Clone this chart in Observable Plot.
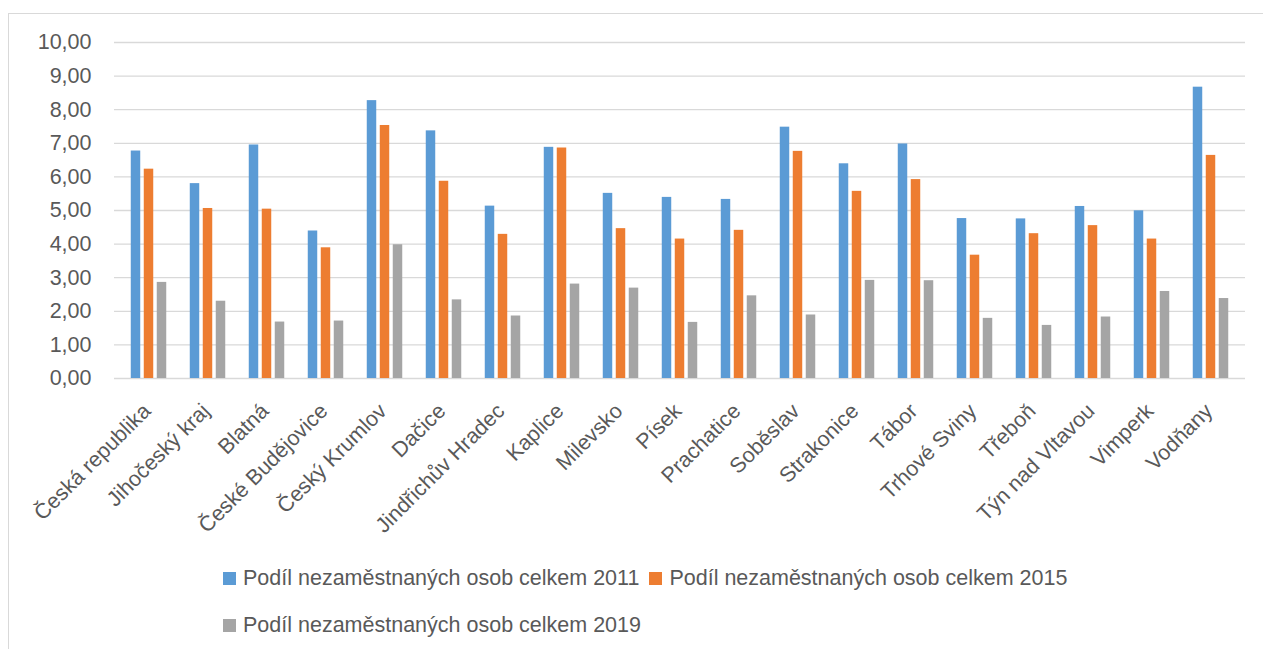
<!DOCTYPE html>
<html>
<head>
<meta charset="utf-8">
<script src="https://cdn.jsdelivr.net/npm/d3@7"></script>
<script src="https://cdn.jsdelivr.net/npm/@observablehq/plot@0.6"></script>
<style>
  html, body { margin: 0; padding: 0; background: #fff; overflow: hidden; }
  #chart { position: relative; width: 1263px; height: 649px; font-family: "Liberation Sans", Arial, sans-serif; }
  #chart svg { position: absolute; left: 0; top: 0; }
  #frame { position: absolute; left: 8px; top: 13px; width: 1320px; height: 700px; border: 1.3px solid #d9d9d9; pointer-events: none; }
  #legend { position: absolute; left: 223px; top: 563px; width: 860px; display: flex; flex-wrap: wrap; font-size: 21.5px; color: #595959; line-height: 30px; row-gap: 17px; }
  .item { display: flex; align-items: center; margin-right: 10px; white-space: nowrap; }
  .sw { width: 13px; height: 13px; margin-right: 7px; }
</style>
</head>
<body>
<div id="chart"><div id="frame"></div></div>
<script>
const categories = ["Česká republika", "Jihočeský kraj", "Blatná", "České Budějovice", "Český Krumlov", "Dačice", "Jindřichův Hradec", "Kaplice", "Milevsko", "Písek", "Prachatice", "Soběslav", "Strakonice", "Tábor", "Trhové Sviny", "Třeboň", "Týn nad Vltavou", "Vimperk", "Vodňany"];
const values2011 = [6.77, 5.80, 6.95, 4.39, 8.27, 7.37, 5.13, 6.88, 5.51, 5.39, 5.33, 7.48, 6.39, 6.98, 4.76, 4.75, 5.12, 4.99, 8.67];
const values2015 = [6.23, 5.06, 5.04, 3.89, 7.53, 5.87, 4.29, 6.86, 4.46, 4.15, 4.41, 6.76, 5.57, 5.92, 3.67, 4.31, 4.55, 4.15, 6.64];
const values2019 = [2.86, 2.30, 1.68, 1.71, 3.98, 2.34, 1.86, 2.81, 2.69, 1.67, 2.46, 1.89, 2.92, 2.91, 1.79, 1.58, 1.83, 2.59, 2.38];
const seriesNames = ["Podíl nezaměstnaných osob celkem 2011", "Podíl nezaměstnaných osob celkem 2015", "Podíl nezaměstnaných osob celkem 2019"];
const seriesColors = ["#5b9bd5", "#ed7d31", "#a5a5a5"];
const yTicks = [0, 1, 2, 3, 4, 5, 6, 7, 8, 9, 10];

const W = 1263, H = 540, ML = 114, MR = 18, MT = 42, MB = H - 378;
const band = (W - ML - MR) / categories.length;
const barW = 10, barStep = 13;
const inset = (band - barW) / 2;

const allSeries = [values2011, values2015, values2019];
const bars = allSeries.map((vals, i) =>
  Plot.barY(categories.map((c, j) => ({cat: c, v: vals[j]})), {
    x: "cat", y: "v", fill: seriesColors[i],
    insetLeft: inset, insetRight: inset, dx: (i - 1) * barStep
  })
);

const fmt = d => d.toFixed(2).replace(".", ",");

const svg = Plot.plot({
  width: W, height: H,
  marginLeft: ML, marginRight: MR, marginTop: MT, marginBottom: MB,
  style: { background: "transparent", color: "#595959", fontFamily: "'Liberation Sans', Arial, sans-serif", fontSize: "21.5px" },
  x: { domain: categories, padding: 0 },
  y: { domain: [0, 10] },
  marks: [
    Plot.ruleY(yTicks, { stroke: "#d9d9d9", strokeWidth: 1.3 }),
    ...bars,
    Plot.axisY(yTicks, { tickSize: 0, tickPadding: 23, tickFormat: fmt, label: null, fontSize: 21.5 }),
    Plot.axisX({ tickSize: 0, tickRotate: -45, tickPadding: 29, dx: -2, label: null, fontSize: 21.5 })
  ]
});
document.getElementById("chart").insertBefore(svg, document.getElementById("frame"));

const legend = document.createElement("div");
legend.id = "legend";
seriesNames.forEach((name, i) => {
  const it = document.createElement("div");
  it.className = "item";
  const sw = document.createElement("span");
  sw.className = "sw";
  sw.style.background = seriesColors[i];
  const tx = document.createElement("span");
  tx.textContent = name;
  it.appendChild(sw); it.appendChild(tx);
  legend.appendChild(it);
});
document.getElementById("chart").appendChild(legend);
</script>
</body>
</html>
